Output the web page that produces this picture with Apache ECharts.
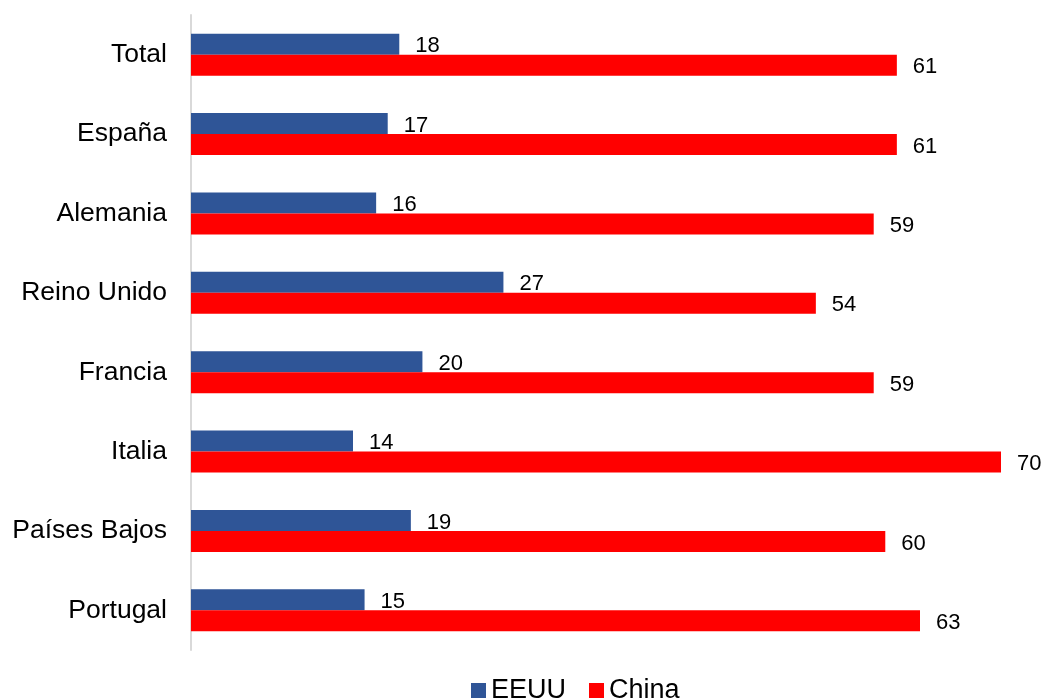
<!DOCTYPE html>
<html><head><meta charset="utf-8">
<script src="https://cdn.jsdelivr.net/npm/echarts@6/dist/echarts.min.js"></script>
<style>html,body{margin:0;padding:0;background:#fff}#c{width:1047px;height:699px}</style>
</head><body><div id="c"></div>
<script>
const categories = ['Total','España','Alemania','Reino Unido','Francia','Italia','Países Bajos','Portugal'];
const eeuu = [18,17,16,27,20,14,19,15];
const china = [61,61,59,54,59,70,60,63];
const seriesNames = ['EEUU','China'];

const chart = echarts.init(document.getElementById('c'));
const font = 'Liberation Sans, Arial, sans-serif';
const lbl = {show:true, position:'right', distance:16, offset:[0,2], color:'#000', fontSize:22, fontFamily:font};
chart.setOption({
  animation:false,
  grid:{left:191, right:46, top:15, bottom:49, containLabel:false},
  legend:{top:677, left:471, padding:0, itemWidth:15, itemHeight:15, itemGap:23,
    icon:'rect', textStyle:{fontSize:27, fontFamily:font, color:'#000', padding:[0,0,0,0]},
    data:seriesNames},
  xAxis:{type:'value', min:0, max:70, show:false},
  yAxis:{type:'category', inverse:true, data:categories,
    axisLine:{show:true, lineStyle:{color:'#d9d9d9', width:2}},
    axisTick:{show:false},
    axisLabel:{fontSize:26.5, fontFamily:font, color:'#000', margin:24},
    splitLine:{show:false}},
  series:[
    {name:seriesNames[0], type:'bar', data:eeuu, barWidth:21, barGap:'0%',
      itemStyle:{color:'#2F5597'}, label:lbl},
    {name:seriesNames[1], type:'bar', data:china, barWidth:21, barGap:'0%',
      itemStyle:{color:'#FF0000'}, label:lbl}
  ]
});
</script></body></html>
